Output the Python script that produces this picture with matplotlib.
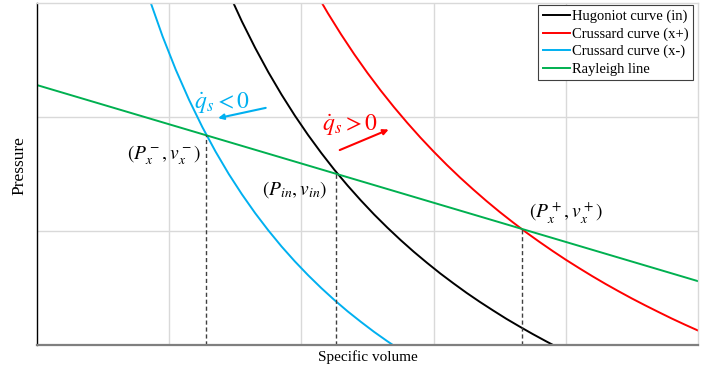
import matplotlib
matplotlib.use("Agg")
import matplotlib.pyplot as plt

plt.rcParams['mathtext.fontset'] = 'stix'

# Hugoniot curve (in)
v_in = [1.45, 1.55, 1.65, 1.75, 1.85, 1.95, 2.05, 2.15, 2.25, 2.35, 2.45, 2.55, 2.65,
        2.75, 2.85, 2.95, 3.05, 3.15, 3.25, 3.35, 3.45, 3.55, 3.65, 3.75, 3.85, 3.95]
p_in = [3.090, 2.838, 2.607, 2.393, 2.196, 2.013, 1.843, 1.685, 1.536, 1.398, 1.268, 1.145, 1.030,
        0.921, 0.818, 0.721, 0.628, 0.541, 0.457, 0.378, 0.303, 0.230, 0.162, 0.096, 0.033, -0.028]
# Crussard curve (x+)
v_xp = [2.10, 2.20, 2.30, 2.40, 2.50, 2.60, 2.70, 2.80, 2.90, 3.00, 3.10, 3.20, 3.30, 3.40, 3.50,
        3.60, 3.70, 3.80, 3.90, 4.00, 4.10, 4.20, 4.30, 4.40, 4.50, 4.60, 4.70, 4.80, 4.90, 5.00]
p_xp = [3.110, 2.911, 2.725, 2.550, 2.386, 2.232, 2.087, 1.950, 1.820, 1.697, 1.580, 1.469, 1.364, 1.263, 1.167,
        1.076, 0.988, 0.905, 0.825, 0.748, 0.675, 0.604, 0.536, 0.471, 0.408, 0.348, 0.290, 0.233, 0.179, 0.127]
# Crussard curve (x-)
v_xm = [0.85, 0.95, 1.05, 1.15, 1.25, 1.35, 1.45, 1.55, 1.65, 1.75, 1.85, 1.95, 2.05, 2.15, 2.25,
        2.35, 2.45, 2.55, 2.65, 2.70]
p_xm = [3.036, 2.707, 2.414, 2.151, 1.913, 1.698, 1.501, 1.322, 1.157, 1.005, 0.864, 0.734, 0.613, 0.500, 0.394,
        0.295, 0.203, 0.115, 0.033, -0.006]
# Rayleigh line
v_r = [0.0, 5.0]
p_r = [2.28, 0.56]
# intersection points (dashed drop lines)
v_pts = [1.28, 2.26, 3.67]
p_pts = [1.840, 1.503, 1.017]

series_labels = ["Hugoniot curve (in)", "Crussard curve (x+)", "Crussard curve (x-)", "Rayleigh line"]
point_labels = [r"$(P_x^-,v_x^-)$", r"$(P_{in},v_{in})$", r"$(P_x^+,v_x^+)$"]

fig = plt.figure(figsize=(7.06, 3.71), dpi=100)
ax = fig.add_axes([37/706, 1-345/371, 661/706, 342/371])
ax.set_xlim(0, 5)
ax.set_ylim(0, 3)
ax.set_xticks([1, 2, 3, 4])
ax.set_yticks([1, 2])
ax.grid(True, color='#d9d9d9', lw=1.0)
ax.tick_params(length=0, labelbottom=False, labelleft=False)
ax.set_axisbelow(True)
for s in ['top', 'right']:
    ax.spines[s].set_color('#d9d9d9')
    ax.spines[s].set_linewidth(1.0)
ax.spines['left'].set_color('black')
ax.spines['left'].set_linewidth(1.0)
ax.spines['bottom'].set_color('#7f7f7f')
ax.spines['bottom'].set_linewidth(1.6)

ax.plot(v_in, p_in, color='black', lw=1.4, label=series_labels[0])
ax.plot(v_xp, p_xp, color='#ff0000', lw=1.4, label=series_labels[1])
ax.plot(v_xm, p_xm, color='#00b0f0', lw=1.4, label=series_labels[2])
ax.plot(v_r, p_r, color='#00b050', lw=1.4, label=series_labels[3])

for v, p in zip(v_pts, p_pts):
    ax.plot([v, v], [0, p], color='#404040', lw=1.0, ls=(0, (3, 2)))

ax.text(0.96, 1.66, point_labels[0], fontsize=14, ha='center', va='center')
ax.text(1.95, 1.36, point_labels[1], fontsize=14, ha='center', va='center')
ax.text(4.0, 1.16, point_labels[2], fontsize=14, ha='center', va='center')

ax.text(1.40, 2.12, r"$\dot{q}_s < 0$", fontsize=17, color='#00b0f0', ha='center', va='center')
ax.text(2.37, 1.93, r"$\dot{q}_s > 0$", fontsize=17, color='#ff0000', ha='center', va='center')
ax.annotate("", xy=(1.37, 1.99), xytext=(1.73, 2.08),
            arrowprops=dict(arrowstyle='-|>', color='#00b0f0', lw=1.5, mutation_scale=8, shrinkA=0, shrinkB=0))
ax.annotate("", xy=(2.66, 1.89), xytext=(2.29, 1.71),
            arrowprops=dict(arrowstyle='-|>', color='#ff0000', lw=1.5, mutation_scale=8, shrinkA=0, shrinkB=0))

leg = ax.legend(loc='upper right', bbox_to_anchor=(0.992, 0.993), prop={'family': 'Liberation Serif', 'size': 10.5},
                frameon=True, fancybox=False, edgecolor='#404040', framealpha=1,
                handlelength=1.85, handletextpad=0.15, labelspacing=0.28, borderpad=0.3, borderaxespad=0)
leg.get_frame().set_linewidth(0.8)

ax.set_xlabel("Specific volume", family='Liberation Serif', fontsize=11, labelpad=4)
ax.set_ylabel("Pressure", family='Liberation Serif', fontsize=12.5)
ax.yaxis.set_label_coords(-0.015, 0.526)

fig.savefig("out.png", dpi=100)
